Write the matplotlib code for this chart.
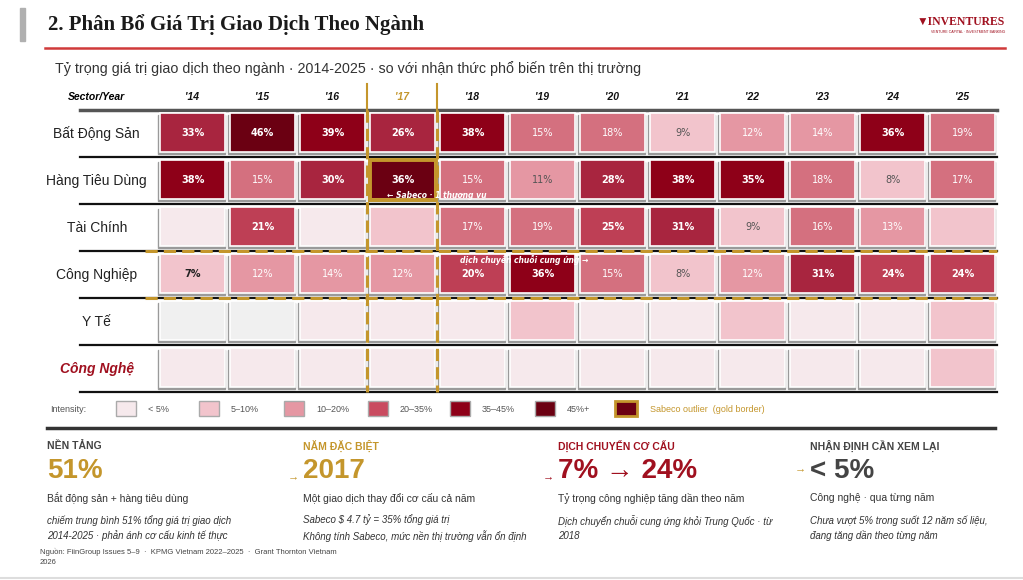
import matplotlib.pyplot as plt
from matplotlib.patches import Rectangle

# Dữ liệu
years = ["'14", "'15", "'16", "'17", "'18", "'19", "'20", "'21", "'22", "'23", "'24", "'25"]
sectors = ["Bất Động Sản", "Hàng Tiêu Dùng", "Tài Chính", "Công Nghiệp", "Y Tế", "Công Nghệ"]
bat_dong_san = [33, 46, 39, 26, 38, 15, 18, 9, 12, 14, 36, 19]
hang_tieu_dung = [38, 15, 30, 36, 15, 11, 28, 38, 35, 18, 8, 17]
tai_chinh = [3, 21, 3, 6, 17, 19, 25, 31, 9, 16, 13, 6]
cong_nghiep = [7, 12, 14, 12, 20, 36, 15, 8, 12, 31, 24, 24]
y_te = [0, 0, 3, 3, 3, 6, 3, 3, 6, 3, 3, 6]
cong_nghe = [2, 2, 2, 2, 2, 2, 2, 2, 2, 2, 2, 5]
rows = [bat_dong_san, hang_tieu_dung, tai_chinh, cong_nghiep, y_te, cong_nghe]
outlier = (1, 3)  # Sabeco

legend_labels = ["< 5%", "5–10%", "10–20%", "20–35%", "35–45%", "45%+"]
legend_colors = ["#f6e9ec", "#f2c4cc", "#e597a3", "#c94b60", "#8e0018", "#6b0012"]

GOLD = "#c4962c"
RED = "#a0101f"
NARROW = ["Liberation Sans Narrow", "Liberation Sans", "DejaVu Sans"]
SANS = ["Liberation Sans", "DejaVu Sans"]
plt.rcParams['font.family'] = SANS


def cor(v, outl=False):
    if outl:
        return "#6b0012"
    if v == 0:
        return "#f0f0f0"
    if v < 5:
        return "#f6e9ec"
    if v < 11:
        return "#f2c4cc"
    if v < 15:
        return "#e597a3"
    if v < 20:
        return "#d4707f"
    if v < 26:
        return "#be3f55"
    if v < 35:
        return "#a8253f"
    if v < 45:
        return "#8e0018"
    return "#6b0012"


fig = plt.figure(figsize=(10.23, 5.8), dpi=100)
ax = fig.add_axes([0, 0, 1, 1])
ax.set_xlim(0, 1023)
ax.set_ylim(580, 0)
ax.axis("off")

# Cabeçalho
ax.add_patch(Rectangle((20, 8), 5, 33, color="#b0b0b0"))
ax.text(48, 25, "2. Phân Bổ Giá Trị Giao Dịch Theo Ngành", fontsize=15, fontweight="bold",
        family="Liberation Serif", va="center", color="#1a1a1a")
ax.text(1005, 22, "▼INVENTURES", fontsize=8.5, family=["Liberation Serif", "DejaVu Sans"], color=RED,
        ha="right", va="center", fontweight="bold")
ax.text(1005, 32, "VENTURE CAPITAL · INVESTMENT BANKING", fontsize=2.5, color=RED, ha="right", va="center")
ax.plot([45, 1005], [48, 48], color="#d03a3a", lw=1.8)
ax.text(55, 69, "Tỷ trọng giá trị giao dịch theo ngành · 2014-2025 · so với nhận thức phổ biến trên thị trường",
        fontsize=10.3, color="#333333", va="center")

# Heatmap
g = fig.add_axes([157 / 1023, (580 - 392) / 580, 840 / 1023, 282 / 580])
g.set_xlim(-0.5, 11.5)
g.set_ylim(5.5, -0.5)
g.axis("off")

g.text(-1.36, -0.78, "Sector/Year", ha="center", va="center", fontsize=7.5, fontweight="bold",
       style="italic", family=NARROW, clip_on=False)
for j, y in enumerate(years):
    g.text(j, -0.78, y, ha="center", va="center", fontsize=7.5, fontweight="bold", style="italic",
           family=NARROW, color=GOLD if j == 3 else "#111111", clip_on=False)

g.plot([-1.6, 11.5], [-0.5, -0.5], color="#555555", lw=2.5, clip_on=False)
for i in range(1, 7):
    g.plot([-1.6, 11.5], [i - 0.5, i - 0.5], color="#111111", lw=1.6, clip_on=False, zorder=1)

for i, (nome, vals) in enumerate(zip(sectors, rows)):
    if nome == "Công Nghệ":
        g.text(-1.36, i, nome, ha="center", va="center", fontsize=10, fontweight="bold",
               style="italic", color=RED, clip_on=False)
    else:
        g.text(-1.36, i, nome, ha="center", va="center", fontsize=10, color="#222222", clip_on=False)
    for j, v in enumerate(vals):
        outl = (i, j) == outlier
        g.add_patch(Rectangle((j - 0.49, i - 0.40), 0.96, 0.84, color="#9a9a9a", zorder=2))
        g.add_patch(Rectangle((j - 0.455, i - 0.43), 0.93, 0.83, facecolor=cor(v, outl),
                              edgecolor="white", lw=1.2, zorder=3))
        if v >= 7:
            tc = "#555555" if v < 12 else "white"
            g.text(j + 0.01, i - 0.02, f"{v}%", ha="center", va="center", fontsize=7,
                   family="DejaVu Sans",
                   fontweight="bold" if (v >= 20 or v == 7) else "normal",
                   color="#222222" if v == 7 else tc, zorder=5)

# Destaques dourados
g.add_patch(Rectangle((outlier[1] - 0.46, outlier[0] - 0.44), 0.94, 0.86, fill=False,
                      edgecolor=GOLD, lw=2.8, zorder=6))
for x in (2.5, 3.5):
    g.plot([x, x], [-0.5, 5.5], color=GOLD, lw=2.2, ls=(0, (4, 2)), zorder=7, clip_on=False)
    g.plot([x, x], [-1.05, -0.5], color=GOLD, lw=1.5, zorder=7, clip_on=False)
for y in (2.5, 3.5):
    g.plot([-0.67, 11.5], [y, y], color=GOLD, lw=2.2, ls=(0, (4, 2)), zorder=7, clip_on=False)
g.text(3.5, 1.32, "← Sabeco · 1 thương vụ", ha="center", va="center", fontsize=5.5,
       family="DejaVu Sans", style="italic", fontweight="bold", color="white", zorder=8)
g.text(4.75, 2.68, "dịch chuyển chuỗi cung ứng →", ha="center", va="center", fontsize=5.5,
       family="DejaVu Sans", style="italic", fontweight="bold", color="white", zorder=8)

# Legenda
ax.text(50, 409, "Intensity:", fontsize=6.5, color="#555555", va="center", family=NARROW)
lx = [116, 199, 284, 368, 450, 535]
for x, lab, c in zip(lx, legend_labels, legend_colors):
    ax.add_patch(Rectangle((x, 401), 20, 15, facecolor=c, edgecolor="#aaaaaa", lw=1))
    ax.text(x + 32, 409, lab, fontsize=6.5, color="#555555", va="center", family=NARROW)
ax.add_patch(Rectangle((615, 401), 22, 15, facecolor="#6b0012", edgecolor=GOLD, lw=2))
ax.text(650, 409, "Sabeco outlier  (gold border)", fontsize=6.5, color=GOLD, va="center", family=NARROW)
ax.plot([47, 995], [428, 428], color="#333333", lw=2.5)

# Rodapé com destaques
cards = [
    (47, "NỀN TẢNG", "#444444", "51%", GOLD, "Bắt động sản + hàng tiêu dùng",
     "chiếm trung bình 51% tổng giá trị giao dịch\n2014-2025 · phản ánh cơ cấu kinh tế thực", None),
    (303, "NĂM ĐẶC BIỆT", GOLD, "2017", GOLD, "Một giao dịch thay đổi cơ cấu cả năm",
     "Sabeco $ 4.7 tỷ = 35% tổng giá trị\nKhông tính Sabeco, mức nền thị trường vẫn ổn định", GOLD),
    (558, "DỊCH CHUYỂN CƠ CẤU", RED, "7% → 24%", RED, "Tỷ trọng công nghiệp tăng dần theo năm",
     "Dịch chuyển chuỗi cung ứng khỏi Trung Quốc · từ\n2018", RED),
    (810, "NHẬN ĐỊNH CẦN XEM LẠI", "#444444", "< 5%", "#444444", "Công nghệ · qua từng năm",
     "Chưa vượt 5% trong suốt 12 năm số liệu,\nđang tăng dần theo từng năm", GOLD),
]
for x, head, hc, big, bc, sub, note, ac in cards:
    ax.text(x, 446, head, fontsize=7.5, fontweight="bold", color=hc, va="center", family=NARROW)
    ax.text(x, 471, big, fontsize=20, fontweight="bold", color=bc, va="center", family=NARROW)
    ax.text(x, 498, sub, fontsize=7.5, color="#333333", va="center", family=NARROW)
    ax.text(x, 528, note, fontsize=7, style="italic", color="#333333", va="center",
            linespacing=1.5, family=NARROW)
    if ac:
        ax.text(x - 15, 468 if x > 800 else 476, "→", fontsize=8, color=ac, va="center")

ax.text(40, 557, "Nguồn: FiinGroup Issues 5–9  ·  KPMG Vietnam 2022–2025  ·  Grant Thornton Vietnam\n2026",
        fontsize=5.5, color="#444444", va="center", linespacing=1.5, family=NARROW)
ax.plot([0, 1023], [578, 578], color="#dddddd", lw=1.5)

fig.savefig("out.png", dpi=100)
